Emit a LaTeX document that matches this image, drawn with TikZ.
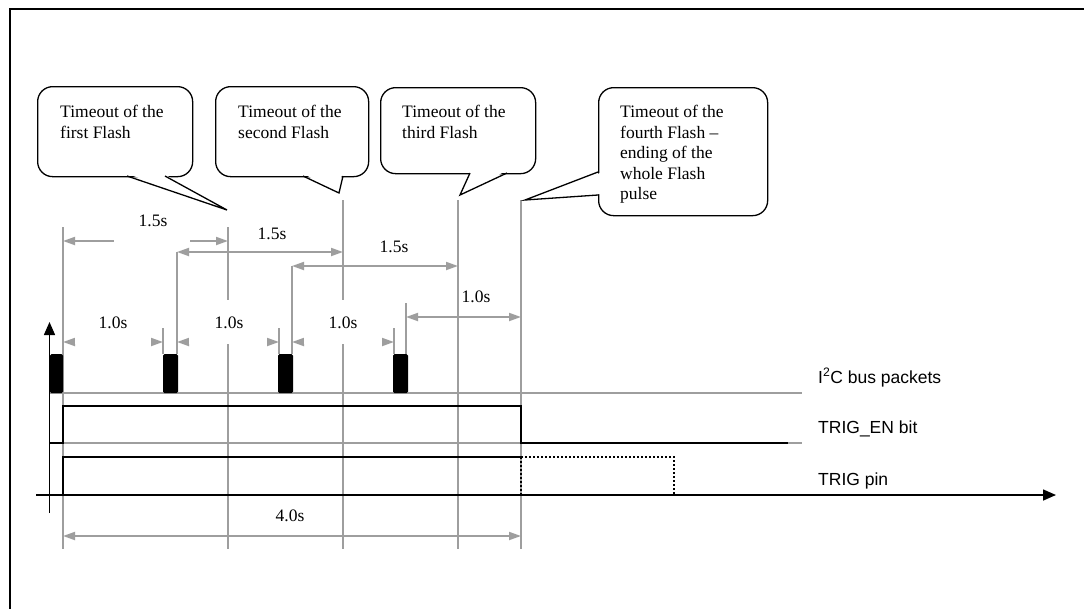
\documentclass[tikz,border=0pt]{standalone}
\usepackage{fontspec}
\setmainfont{Liberation Serif}
\newfontfamily\arialfont{Liberation Sans}
\usetikzlibrary{arrows.meta}
\definecolor{gline}{RGB}{158,158,158}
\begin{document}
\begin{tikzpicture}[x=1pt,y=-1pt,
  gridline/.style={draw=gline,line width=1.6pt},
  dimarrow/.style={draw=gline,line width=1.8pt,{Triangle[length=12pt,width=8pt]}-{Triangle[length=12pt,width=8pt]}},
  wave/.style={draw=black,line width=2pt},
  dotwave/.style={draw=black,line width=2pt,dotted},
  axis/.style={draw=black,line width=1.5pt,-{Triangle[length=13pt,width=11pt]}},
  bubble/.style={draw=black,fill=white,line width=1.3pt,rounded corners=15pt,inner sep=0pt,anchor=north west},
  tail/.style={draw=black,line width=1.3pt,line join=miter},
  btext/.style={font=\fontsize{17.5}{20.5}\selectfont,align=left,anchor=north west,inner sep=0pt},
  dimlabel/.style={font=\fontsize{17.5}{20}\selectfont,inner sep=0pt},
  siglabel/.style={font=\arialfont\fontsize{17.5}{20}\selectfont,anchor=base west,inner sep=0pt},
  mask/.style={fill=white,draw=none},
  packet/.style={fill=black,rounded corners=1.5pt}
]
\useasboundingbox (0,0) rectangle (1084,608);
\fill[white] (0,0) rectangle (1084,608);

% frame
\draw[line width=2pt] (10,620) -- (10,9) -- (1100,9);

% time marker coordinates
\coordinate (m0) at (63,227);
\coordinate (m1) at (228,227);
\coordinate (m2) at (343,200);
\coordinate (m3) at (458,200);
\coordinate (m4) at (521,200);
\coordinate (m0b) at (63,549);
\coordinate (m1b) at (228,549);
\coordinate (m2b) at (343,549);
\coordinate (m3b) at (458,549);
\coordinate (m4b) at (521,549);

% grey vertical lines
\draw[gridline] (m0) -- (m0b);
\draw[gridline] (m1) -- (m1b);
\draw[gridline] (m2) -- (m2b);
\draw[gridline] (m3) -- (m3b);
\draw[gridline] (m4) -- (m4b);
\draw[gridline] (163,328) -- (163,354);
\draw[gridline] (177,252) -- (177,354);
\draw[gridline] (279,328) -- (279,354);
\draw[gridline] (292,266) -- (292,354);
\draw[gridline] (394,328) -- (394,354);
\draw[gridline] (406,303) -- (406,354);

% grey baselines
\draw[gridline] (50,393) -- (802,393);
\draw[gridline] (50,443) -- (802,443);

% dimension arrows
\coordinate (a1l) at (63,241);  \coordinate (a1r) at (228,241);
\coordinate (a2l) at (177,252); \coordinate (a2r) at (343,252);
\coordinate (a3l) at (292,266); \coordinate (a3r) at (458,266);
\coordinate (b1l) at (63,342);  \coordinate (b1r) at (163,342);
\coordinate (b2l) at (177,342); \coordinate (b2r) at (279,342);
\coordinate (b3l) at (292,342); \coordinate (b3r) at (394,342);
\coordinate (b4l) at (406,317); \coordinate (b4r) at (521,317);
\coordinate (cl) at (63,536);   \coordinate (cr) at (521,536);
\draw[dimarrow] (a1l) -- (a1r);
\draw[dimarrow] (a2l) -- (a2r);
\draw[dimarrow] (a3l) -- (a3r);
\draw[dimarrow] (b1l) -- (b1r);
\draw[dimarrow] (b2l) -- (b2r);
\draw[dimarrow] (b3l) -- (b3r);
\draw[dimarrow] (b4l) -- (b4r);
\draw[dimarrow] (cl) -- (cr);

% white label boxes hiding lines
\fill[mask] (114,210) rectangle (190,243);
\fill[mask] (75,300) rectangle (151,343.5);
\fill[mask] (189,300) rectangle (267,343.5);
\fill[mask] (304,300) rectangle (382,343.5);

% dimension labels
\node[dimlabel] (l1) at (153,221) {1.5s};
\node[dimlabel] (l2) at (272,234) {1.5s};
\node[dimlabel] (l3) at (394,247) {1.5s};
\node[dimlabel] (l4) at (113,323) {1.0s};
\node[dimlabel] (l5) at (229,323) {1.0s};
\node[dimlabel] (l6) at (343,323) {1.0s};
\node[dimlabel] (l7) at (476,297) {1.0s};
\node[dimlabel] (l8) at (290,516) {4.0s};

% packets
\fill[packet] (50,354) rectangle (63,393);
\fill[packet] (163,354) rectangle (178,393);
\fill[packet] (278,354) rectangle (293,393);
\fill[packet] (393,354) rectangle (408,393);

% axes
\coordinate (yaxb) at (49.5,513);
\coordinate (yaxt) at (49.5,322);
\coordinate (xaxl) at (36,495);
\coordinate (xaxr) at (1056,495);
\draw[axis] (yaxb) -- (yaxt);
\draw[axis] (xaxl) -- (xaxr);

% TRIG_EN bit
\draw[wave] (50,443) -- (63,443) -- (63,406) -- (521,406) -- (521,443) -- (788,443);
% TRIG pin
\draw[wave] (63,495) -- (63,457) -- (521,457);
\draw[dotwave] (521,457) -- (674,457) -- (674,495);
\draw[dotwave] (521,457) -- (521,495);

% signal labels
\node[siglabel] (s1) at (818,383) {I\textsuperscript{2}C bus packets};
\node[siglabel] (s2) at (818,433) {TRIG\_EN bit};
\node[siglabel] (s3) at (818,485) {TRIG pin};

% callouts
\node[bubble,minimum width=155pt,minimum height=90pt] (c1) at (37,86) {};
\fill[white] (128,174) -- (164,174) -- (227,210) -- cycle;
\draw[tail] (127,176) -- (227,210) -- (165,176);
\node[btext] (c1t) at (60,105) {Timeout of the\\first Flash};

\node[bubble,minimum width=153pt,minimum height=90pt] (c2) at (215,86) {};
\fill[white] (304,174) -- (342,174) -- (339,193) -- cycle;
\draw[tail] (303,176) -- (339,193) -- (343,176);
\node[btext] (c2t) at (238,105) {Timeout of the\\second Flash};

\node[bubble,minimum width=155pt,minimum height=86pt] (c3) at (380,87) {};
\fill[white] (471,171) -- (506,171) -- (460,195) -- cycle;
\draw[tail] (470,173) -- (460,195) -- (507,173);
\node[btext] (c3t) at (402,105) {Timeout of the\\third Flash};

\node[bubble,minimum width=169pt,minimum height=128pt] (c4) at (598,87) {};
\fill[white] (600,173) -- (600,194) -- (525,200) -- cycle;
\draw[tail] (598,172) -- (525,200) -- (598,195);
\node[btext] (c4t) at (620,105) {Timeout of the\\fourth Flash --\\ending of the\\whole Flash\\pulse};
\end{tikzpicture}
\end{document}
